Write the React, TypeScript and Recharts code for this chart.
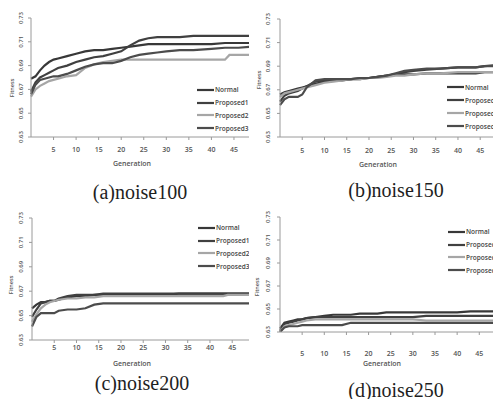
import React from 'react';
import { LineChart, Line, XAxis, YAxis, Legend } from 'recharts';

// generations sampled along each run
const generations = [0, 1, 2, 3, 4, 5, 6, 8, 10, 12, 14, 16, 18, 20, 22, 24, 26, 28, 30, 33, 36, 40, 43, 44, 46, 49];
const seriesNames = ['Normal', 'Proposed1', 'Proposed2', 'Proposed3'];
const seriesColors = ['#383838', '#404040', '#a6a6a6', '#4c4c4c'];
const xTicks = [5, 10, 15, 20, 25, 30, 35, 40, 45];
const yTicks = [0.63, 0.65, 0.67, 0.69, 0.71, 0.73];

// (a) noise100
const normal100 = [0.679, 0.681, 0.686, 0.69, 0.693, 0.695, 0.696, 0.698, 0.7, 0.702, 0.703, 0.703, 0.704, 0.705, 0.706, 0.707, 0.708, 0.708, 0.708, 0.708, 0.708, 0.708, 0.709, 0.709, 0.709, 0.709];
const proposed1_100 = [0.668, 0.676, 0.68, 0.682, 0.684, 0.686, 0.688, 0.69, 0.693, 0.695, 0.697, 0.698, 0.7, 0.702, 0.707, 0.711, 0.713, 0.714, 0.714, 0.714, 0.715, 0.715, 0.715, 0.715, 0.715, 0.715];
const proposed2_100 = [0.664, 0.67, 0.673, 0.675, 0.677, 0.678, 0.679, 0.681, 0.682, 0.688, 0.691, 0.693, 0.694, 0.695, 0.695, 0.695, 0.695, 0.695, 0.695, 0.695, 0.695, 0.695, 0.695, 0.699, 0.699, 0.699];
const proposed3_100 = [0.666, 0.674, 0.678, 0.679, 0.68, 0.681, 0.681, 0.683, 0.686, 0.689, 0.691, 0.692, 0.692, 0.694, 0.697, 0.699, 0.7, 0.701, 0.702, 0.703, 0.703, 0.704, 0.705, 0.705, 0.705, 0.706];

// (b) noise150
const normal150 = [0.666, 0.668, 0.669, 0.67, 0.671, 0.672, 0.673, 0.675, 0.677, 0.678, 0.678, 0.679, 0.679, 0.68, 0.681, 0.682, 0.683, 0.683, 0.683, 0.684, 0.684, 0.684, 0.684, 0.684, 0.685, 0.685];
const proposed1_150 = [0.66, 0.665, 0.667, 0.668, 0.669, 0.671, 0.673, 0.677, 0.678, 0.678, 0.679, 0.679, 0.68, 0.68, 0.681, 0.682, 0.683, 0.685, 0.686, 0.687, 0.688, 0.689, 0.689, 0.689, 0.69, 0.691];
const proposed2_150 = [0.664, 0.667, 0.668, 0.669, 0.67, 0.671, 0.672, 0.674, 0.676, 0.677, 0.678, 0.679, 0.679, 0.68, 0.68, 0.681, 0.682, 0.682, 0.683, 0.684, 0.684, 0.685, 0.685, 0.685, 0.685, 0.685];
const proposed3_150 = [0.657, 0.662, 0.664, 0.664, 0.664, 0.666, 0.672, 0.678, 0.679, 0.679, 0.679, 0.679, 0.68, 0.68, 0.681, 0.682, 0.684, 0.686, 0.687, 0.688, 0.688, 0.689, 0.689, 0.689, 0.69, 0.69];

// (c) noise200
const normal200 = [0.656, 0.659, 0.661, 0.661, 0.662, 0.662, 0.663, 0.665, 0.666, 0.666, 0.667, 0.667, 0.667, 0.667, 0.667, 0.667, 0.667, 0.667, 0.667, 0.668, 0.668, 0.668, 0.668, 0.668, 0.668, 0.668];
const proposed1_200 = [0.649, 0.655, 0.66, 0.661, 0.662, 0.662, 0.664, 0.666, 0.667, 0.667, 0.667, 0.668, 0.668, 0.668, 0.668, 0.668, 0.668, 0.668, 0.668, 0.668, 0.668, 0.668, 0.668, 0.668, 0.668, 0.668];
const proposed2_200 = [0.645, 0.651, 0.656, 0.659, 0.661, 0.662, 0.663, 0.664, 0.664, 0.665, 0.665, 0.666, 0.666, 0.666, 0.666, 0.666, 0.666, 0.666, 0.666, 0.666, 0.666, 0.666, 0.666, 0.667, 0.667, 0.667];
const proposed3_200 = [0.641, 0.649, 0.652, 0.652, 0.652, 0.652, 0.654, 0.655, 0.655, 0.656, 0.659, 0.66, 0.66, 0.66, 0.66, 0.66, 0.66, 0.66, 0.66, 0.66, 0.66, 0.66, 0.66, 0.66, 0.66, 0.66];

// (d) noise250
const normal250 = [0.633, 0.638, 0.639, 0.64, 0.641, 0.641, 0.642, 0.643, 0.644, 0.645, 0.645, 0.645, 0.646, 0.646, 0.646, 0.647, 0.647, 0.647, 0.647, 0.647, 0.647, 0.647, 0.648, 0.648, 0.648, 0.648];
const proposed1_250 = [0.631, 0.637, 0.638, 0.639, 0.64, 0.641, 0.642, 0.643, 0.643, 0.643, 0.643, 0.643, 0.643, 0.643, 0.643, 0.643, 0.643, 0.643, 0.643, 0.644, 0.644, 0.644, 0.644, 0.644, 0.644, 0.644];
const proposed2_250 = [0.63, 0.635, 0.636, 0.637, 0.638, 0.639, 0.64, 0.641, 0.641, 0.641, 0.641, 0.641, 0.641, 0.641, 0.641, 0.641, 0.641, 0.641, 0.641, 0.64, 0.64, 0.64, 0.64, 0.64, 0.64, 0.64];
const proposed3_250 = [0.63, 0.634, 0.635, 0.635, 0.635, 0.636, 0.636, 0.636, 0.636, 0.636, 0.636, 0.638, 0.638, 0.638, 0.638, 0.638, 0.638, 0.638, 0.638, 0.638, 0.638, 0.638, 0.638, 0.638, 0.638, 0.638];

const buildRows = (cols: number[][]) =>
  generations.map((gen, i) => {
    const row: Record<string, number> = { gen };
    seriesNames.forEach((name, k) => {
      row[name] = cols[k][i];
    });
    return row;
  });

const tickFont = "'Open Sans', 'DejaVu Sans', sans-serif";

interface PanelProps {
  left: number;
  top: number;
  clipWidth: number;
  plotLeft: number;
  plotTop: number;
  plotBottom: number;
  plotWidth: number;
  xLabelGap: number;
  yLabelGap: number;
  legendX: number;
  legendY: number;
  legendStep: number;
  fitness: [number, number];
  generation: [number, number];
  title: string;
  titlePos: [number, number];
  rows: Record<string, number>[];
}

const Panel: React.FC<PanelProps> = (p) => {
  const XTick = (props: any) => {
    const { x, y, payload } = props;
    return (
      <text x={x} y={y - 3 + p.xLabelGap} textAnchor='middle' dominantBaseline='central'
        fontSize={7} fontWeight={600} fill='#555' fontFamily={tickFont}>
        {payload.value}
      </text>
    );
  };
  const YTick = (props: any) => {
    const { x, y, payload } = props;
    const tx = x + 3 - p.yLabelGap;
    return (
      <text x={tx} y={y} transform={`rotate(-90 ${tx} ${y})`} textAnchor='middle' dominantBaseline='central'
        fontSize={6} fontWeight={600} fill='#555' fontFamily={tickFont}>
        {Number(payload.value).toFixed(2)}
      </text>
    );
  };
  const renderLegend = (props: any) => (
    <div>
      {(props.payload || []).map((entry: any) => (
        <div key={entry.value} style={{ height: p.legendStep, display: 'flex', alignItems: 'center' }}>
          <svg width={17} height={4}>
            <line x1={0} y1={2} x2={17} y2={2} stroke={entry.color} strokeWidth={2.2} />
          </svg>
          <span style={{ fontSize: 6.5, marginLeft: 1, color: '#444', fontFamily: tickFont, fontWeight: 600, whiteSpace: 'nowrap' }}>
            {entry.value}
          </span>
        </div>
      ))}
    </div>
  );

  const width = p.plotLeft + p.plotWidth;
  const height = p.plotBottom + 30;
  const label: React.CSSProperties = {
    position: 'absolute', fontFamily: tickFont, fontWeight: 600, color: '#555', whiteSpace: 'nowrap',
  };

  return (
    <>
      <div style={{ position: 'absolute', left: p.left, top: p.top, width: p.clipWidth, height: 200, overflow: 'hidden' }}>
        <LineChart width={width} height={height} data={p.rows} margin={{ top: p.plotTop, right: 0, bottom: 0, left: 0 }}>
          <XAxis dataKey='gen' type='number' domain={[0, 49]} ticks={xTicks} interval={0} height={30}
            axisLine={{ stroke: '#9a9a9a' }} tickLine={{ stroke: '#9a9a9a' }} tickSize={3} tickMargin={0} tick={XTick} />
          <YAxis type='number' domain={[0.63, 0.73]} ticks={yTicks} interval={0} width={p.plotLeft} allowDataOverflow
            axisLine={{ stroke: '#9a9a9a' }} tickLine={{ stroke: '#9a9a9a' }} tickSize={3} tickMargin={0} tick={YTick} />
          <Legend layout='vertical' align='center' verticalAlign='middle' width={70} height={4 * p.legendStep}
            content={renderLegend}
            wrapperStyle={{ position: 'absolute', left: p.legendX - p.left, top: p.legendY - p.top - p.legendStep / 2 }} />
          {seriesNames.map((name, k) => (
            <Line key={name} dataKey={name} stroke={seriesColors[k]} strokeWidth={2.2} dot={false}
              type='linear' isAnimationActive={false} />
          ))}
        </LineChart>
      </div>
      <div style={{ ...label, fontSize: 5.5, left: p.fitness[0], top: p.fitness[1], transform: 'translate(-50%, -50%) rotate(-90deg)' }}>
        Fitness
      </div>
      <div style={{ ...label, fontSize: 7, left: p.generation[0], top: p.generation[1], transform: 'translate(-50%, -50%)' }}>
        Generation
      </div>
      <div style={{
        position: 'absolute', left: p.titlePos[0], top: p.titlePos[1], transform: 'translate(-50%, -50%)',
        fontFamily: "'Liberation Serif', 'DejaVu Serif', serif", fontSize: 20, color: '#1e1e1e', whiteSpace: 'nowrap',
      }}>
        {p.title}
      </div>
    </>
  );
};

const App: React.FC = () => (
  <div style={{ position: 'absolute', left: 0, top: 0, width: 493, height: 399, background: '#fff', overflow: 'hidden' }}>
    <Panel left={0} top={0} clipWidth={249} plotLeft={31} plotTop={18} plotBottom={137} plotWidth={221}
      xLabelGap={12} yLabelGap={10} legendX={197} legendY={90} legendStep={12.7}
      fitness={[12, 88]} generation={[132, 163]} title='(a)noise100' titlePos={[140, 192]}
      rows={buildRows([normal100, proposed1_100, proposed2_100, proposed3_100])} />
    <Panel left={249} top={0} clipWidth={244} plotLeft={31} plotTop={19} plotBottom={137} plotWidth={218}
      xLabelGap={13} yLabelGap={12} legendX={447} legendY={87} legendStep={13}
      fitness={[259, 80]} generation={[378, 164]} title='(b)noise150' titlePos={[396, 190]}
      rows={buildRows([normal150, proposed1_150, proposed2_150, proposed3_150])} />
    <Panel left={0} top={200} clipWidth={249} plotLeft={32} plotTop={18} plotBottom={140} plotWidth={218}
      xLabelGap={7} yLabelGap={11} legendX={198} legendY={228} legendStep={12.7}
      fitness={[11, 285]} generation={[132, 363]} title='(c)noise200' titlePos={[142, 383]}
      rows={buildRows([normal200, proposed1_200, proposed2_200, proposed3_200])} />
    <Panel left={249} top={200} clipWidth={244} plotLeft={31} plotTop={17} plotBottom={132} plotWidth={217}
      xLabelGap={21} yLabelGap={12} legendX={448} legendY={232} legendStep={12.7}
      fitness={[257, 287]} generation={[382, 363]} title='(d)noise250' titlePos={[396, 390]}
      rows={buildRows([normal250, proposed1_250, proposed2_250, proposed3_250])} />
  </div>
);

export default App;
